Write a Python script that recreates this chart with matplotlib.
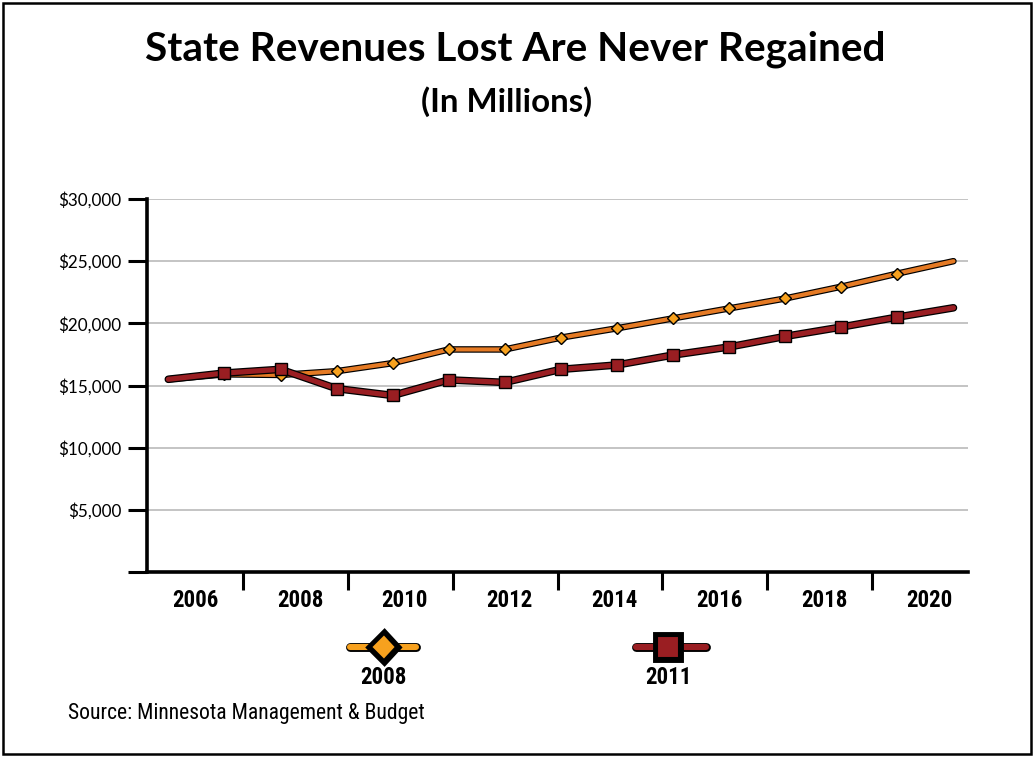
import matplotlib
matplotlib.use("Agg")
import matplotlib.pyplot as plt
import matplotlib.patheffects as pe
from matplotlib import font_manager
from matplotlib.lines import Line2D
from matplotlib.patches import Rectangle
from matplotlib.ticker import FuncFormatter, FixedLocator

# Fiscal years and revenue forecasts ($ millions)
years = list(range(2006, 2021))
forecast_2008 = [15500, 15900, 15850, 16150, 16800, 17900, 17900, 18850,
                 19600, 20400, 21200, 22000, 22950, 24000, 25000]
forecast_2011 = [15500, 16000, 16300, 14750, 14200, 15450, 15250, 16300,
                 16650, 17450, 18100, 18950, 19700, 20500, 21250]

axis_labels = ['2006', '2008', '2010', '2012', '2014', '2016', '2018', '2020']
series_names = ['2008', '2011']

ORANGE_LINE = '#E57A24'
ORANGE_MARK = '#F7A11E'
RED = '#9A1E22'

# pick a narrow sans if one is installed, otherwise plain Liberation Sans
installed = {f.name for f in font_manager.fontManager.ttflist}
narrow = next((n for n in ['Liberation Sans Narrow', 'Roboto Condensed',
                           'Open Sans Condensed', 'DejaVu Sans Condensed']
               if n in installed), None)
if narrow:
    NARROW, x_size, src_size = [narrow, 'DejaVu Sans'], 16.5, 15.6
else:
    NARROW, x_size, src_size = ['Liberation Sans', 'DejaVu Sans'], 14, 12.8
HEAD = ['Lato', 'DejaVu Sans']

fig = plt.figure(figsize=(10.34, 7.57), dpi=100)
ax = fig.add_axes([0.1422, 0.2444, 0.7940, 0.4927])

# lines with a black outline, then the markers on top
def draw_series(values, inner, outer, color, marker, msize, mcolor, z):
    ax.plot(years, values, color=color, lw=inner, solid_capstyle='round',
            solid_joinstyle='round', zorder=z,
            path_effects=[pe.Stroke(linewidth=outer, foreground='black'), pe.Normal()])
    ax.plot(years[1:-1], values[1:-1], ls='none', marker=marker, ms=msize,
            mfc=mcolor, mec='black', mew=1.0, zorder=z + 0.5)

draw_series(forecast_2008, 3.0, 4.7, ORANGE_LINE, 'D', 6.3, ORANGE_MARK, 3)
draw_series(forecast_2011, 3.7, 5.5, RED, 's', 8.3, RED, 4)

# x axis: year labels sit between tick marks (label spacing is ~1.87 data years)
step = 1.871
label_pos = [2006.476 + i * step for i in range(len(axis_labels))]
tick_pos = [2007.327 + i * step for i in range(len(axis_labels) - 1)]
ax.set_xlim(2005.62, 2020.26)
ax.xaxis.set_major_locator(FixedLocator(tick_pos))
ax.xaxis.set_minor_locator(FixedLocator(label_pos))
ax.set_xticklabels([], minor=False)
ax.set_xticklabels(axis_labels, minor=True, fontsize=x_size, fontweight='bold',
                   family=NARROW)
ax.tick_params(axis='x', which='major', direction='out', length=13, width=2.2,
               color='black')
ax.tick_params(axis='x', which='minor', length=0, pad=12)

# y axis
ax.set_ylim(0, 30000)
ax.set_yticks(range(0, 30001, 5000))
ax.yaxis.set_major_formatter(FuncFormatter(lambda v, p: '' if v == 0 else f'${v:,.0f}'))
ax.tick_params(axis='y', direction='out', length=14, width=2.2, pad=4.5)
for t in ax.get_yticklabels():
    t.set_fontsize(12.3)
    t.set_family(HEAD)
ax.grid(axis='y', color='#C4C4C4', lw=1.4, zorder=0)
ax.set_axisbelow(True)

for side in ['top', 'right']:
    ax.spines[side].set_visible(False)
for side in ['left', 'bottom']:
    ax.spines[side].set_linewidth(2.6)

# titles
fig.text(0.498, 0.935, 'State Revenues Lost Are Never Regained', ha='center',
         va='center', fontsize=29.2, fontweight='bold', family=HEAD)
fig.text(0.49, 0.866, '(In Millions)', ha='center', va='center', fontsize=23.8,
         fontweight='bold', family=HEAD)

# legend below the plot, text under each symbol
legend_specs = [
    (series_names[0], 0.3385, 0.402, ORANGE_MARK, 'D', 13, 0.371),
    (series_names[1], 0.615, 0.6828, RED, 's', 15.5, 0.646),
]
for name, x0, x1, color, marker, msize, xc in legend_specs:
    y = 1 - 647 / 757
    fig.add_artist(Line2D([x0, xc, x1], [y, y, y], transform=fig.transFigure,
                          color=color, lw=4.4, solid_capstyle='round',
                          marker=marker, markevery=[1], ms=msize, mfc=color,
                          mec='black', mew=1.5,
                          path_effects=[pe.Stroke(linewidth=6.4, foreground='black'),
                                        pe.Normal()]))
    fig.text(xc, 1 - 677 / 757, name, ha='center', va='center', fontsize=x_size,
             fontweight='bold', family=NARROW)

fig.text(0.066, 1 - 713 / 757, 'Source: Minnesota Management & Budget',
         ha='left', va='center', fontsize=src_size, family=NARROW)

fig.add_artist(Rectangle((0.003, 0.004), 0.994, 0.992, transform=fig.transFigure,
                         fill=False, ec='black', lw=1.8))

fig.savefig('out.png', dpi=100, facecolor='white')
